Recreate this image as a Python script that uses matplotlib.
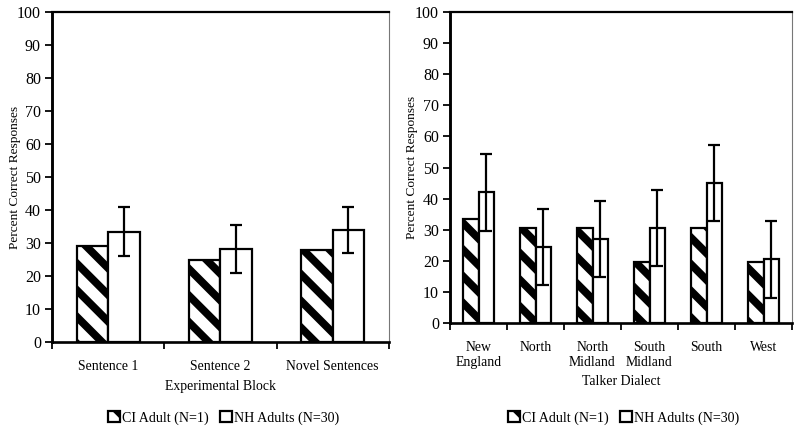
import matplotlib.pyplot as plt
import numpy as np

plt.rcParams['font.family'] = ['Liberation Serif', 'DejaVu Serif']
plt.rcParams['hatch.linewidth'] = 3.5

# panel 1: experimental block
bloco = ['Sentence 1', 'Sentence 2', 'Novel Sentences']
ci_bloco = [29, 25, 28]
nh_bloco = [33.5, 28.3, 34]
nh_bloco_err = [7.3, 7.3, 7.0]

# panel 2: talker dialect
dialeto = ['New\nEngland', 'North', 'North\nMidland', 'South\nMidland', 'South', 'West']
ci_dial = [33.5, 30.5, 30.5, 19.5, 30.5, 19.5]
nh_dial = [42, 24.5, 27, 30.5, 45, 20.5]
nh_dial_err = [12.3, 12.3, 12.3, 12.2, 12.3, 12.3]

legenda = ['CI Adult (N=1)', 'NH Adults (N=30)']

dpi = 160
fig = plt.figure(figsize=(800 / dpi, 433 / dpi), dpi=dpi)
ax1 = fig.add_axes([0.065, 0.21, 0.421, 0.762])
ax2 = fig.add_axes([0.5625, 0.254, 0.4275, 0.718])

bar_larg = 0.28
fs = 6.2


def painel(ax, cats, ci, nh, err, xlabel, ylab_x):
    idx = np.arange(len(cats))
    b1 = ax.bar(idx - bar_larg / 2, ci, bar_larg, color='white', edgecolor='black',
                hatch='\\\\', linewidth=1.0)
    b2 = ax.bar(idx + bar_larg / 2, nh, bar_larg, color='white', edgecolor='black',
                linewidth=1.0)
    ax.errorbar(idx + bar_larg / 2, nh, yerr=err, fmt='none', ecolor='black',
                elinewidth=1.0, capsize=2.5, capthick=1.0)
    ax.set_xlim(-0.5, len(cats) - 0.5)
    ax.set_ylim(0, 100)
    ax.set_yticks(np.arange(0, 101, 10))
    ax.set_xticks(idx)
    ax.set_xticklabels(cats, fontsize=fs)
    ax.set_xticks(np.arange(len(cats) + 1) - 0.5, minor=True)
    ax.tick_params(axis='x', which='major', length=0, pad=8)
    ax.tick_params(axis='x', which='minor', length=3, direction='out', width=0.8)
    ax.tick_params(axis='y', length=3, width=0.8, labelsize=7.2, pad=2)
    ax.set_ylabel('Percent Correct Responses', fontsize=6.0)
    ax.yaxis.set_label_coords(ylab_x, 0.5)
    ax.set_xlabel(xlabel, fontsize=fs, labelpad=3)
    ax.spines['left'].set_linewidth(1.3)
    ax.spines['bottom'].set_linewidth(1.2)
    ax.spines['top'].set_linewidth(1.0)
    ax.spines['right'].set_linewidth(0.5)
    ax.spines['right'].set_color('#777777')
    return b1, b2


b1, b2 = painel(ax1, bloco, ci_bloco, nh_bloco, nh_bloco_err, 'Experimental Block', -0.092)
fig.legend([b1, b2], legenda, loc='center', bbox_to_anchor=(0.28, 0.035), ncol=2,
           frameon=False, fontsize=6.3, handlelength=0.8, handleheight=0.8,
           handletextpad=0.2, columnspacing=0.8)

b1, b2 = painel(ax2, dialeto, ci_dial, nh_dial, nh_dial_err, 'Talker Dialect', -0.095)
fig.legend([b1, b2], legenda, loc='center', bbox_to_anchor=(0.78, 0.035), ncol=2,
           frameon=False, fontsize=6.3, handlelength=0.8, handleheight=0.8,
           handletextpad=0.2, columnspacing=0.8)

plt.savefig('out.png', dpi=dpi)
